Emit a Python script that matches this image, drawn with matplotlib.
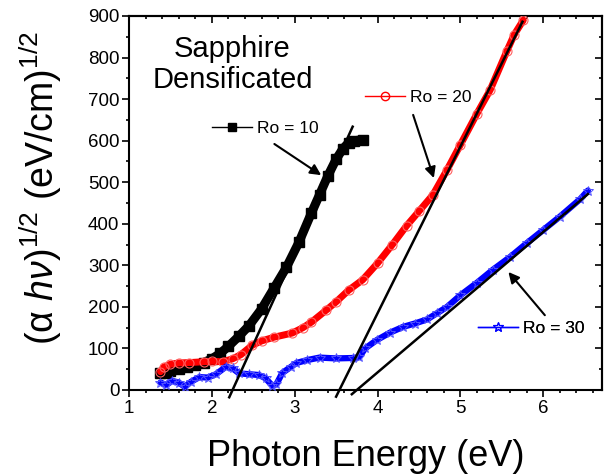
import matplotlib
matplotlib.use("Agg")
import matplotlib.pyplot as plt
from matplotlib.lines import Line2D
import numpy as np

plt.rcParams['font.family'] = ['Liberation Sans', 'DejaVu Sans']
plt.rcParams['mathtext.fontset'] = 'custom'
plt.rcParams['mathtext.rm'] = 'Liberation Sans'
plt.rcParams['mathtext.it'] = 'Liberation Sans:italic'

# Ro = 10 (black squares)
x10 = [1.38, 1.45, 1.5, 1.6, 1.7, 1.8, 1.9, 2.0, 2.1, 2.2, 2.33, 2.45, 2.6, 2.75,
       2.9, 3.05, 3.2, 3.3, 3.4, 3.5, 3.58, 3.65, 3.72, 3.82]
y10 = [40, 42, 45, 50, 55, 60, 66, 75, 88, 105, 130, 155, 195, 245,
       295, 355, 425, 470, 515, 555, 580, 595, 600, 602]

# Ro = 20 (red open circles)
x20 = [1.38, 1.42, 1.5, 1.6, 1.73, 1.9, 2.0, 2.13, 2.25, 2.35, 2.49, 2.6, 2.75, 2.97,
       3.1, 3.2, 3.38, 3.5, 3.65, 3.82, 4.0, 4.18, 4.35, 4.5, 4.67, 4.84, 5.0,
       5.2, 5.36, 5.56, 5.65, 5.76]
y20 = [44, 55, 62, 65, 66, 68, 69, 68, 75, 85, 108, 118, 127, 137,
       150, 163, 192, 212, 240, 265, 305, 350, 395, 430, 470, 530, 590,
       665, 722, 815, 855, 890]

# Ro = 30 (blue open stars)
x30 = [1.38, 1.45, 1.52, 1.6, 1.67, 1.75, 1.85, 1.95, 2.05, 2.17, 2.25, 2.33, 2.45,
       2.57, 2.65, 2.73, 2.78, 2.85, 2.95, 3.02, 3.15, 3.3, 3.5, 3.7, 3.78, 3.85,
       3.99, 4.15, 4.31, 4.45, 4.6, 4.72, 4.84, 5.0, 5.2, 5.39, 5.6, 5.8, 6.0,
       6.2, 6.45, 6.54]
y30 = [18, 12, 22, 18, 8, 20, 31, 30, 38, 56, 52, 40, 38,
       36, 28, 10, 14, 41, 55, 65, 72, 78, 76, 77, 79, 100,
       120, 138, 152, 160, 170, 185, 200, 228, 258, 289, 320, 353, 385,
       417, 460, 480]

# linear extrapolations: x-intercept (gap), slope, x-range
fit_gap = [2.25, 3.54, 3.75]
fit_slope = [437, 401, 169]
fit_xrange = [(2.21, 3.70), (3.50, 5.75), (3.69, 6.54)]

# arrows (tail -> head) and labels
arrow_tail = [(2.755, 592), (4.43, 662), (6.02, 180)]
arrow_head = [(3.32, 517), (4.68, 510), (5.58, 284)]
label_pos = [(2.0, 630), (3.85, 705), (5.21, 149)]
labels = ['Ro = 10', 'Ro = 20', 'Ro = 30']

fig = plt.figure(figsize=(6.1, 4.76), dpi=100)
ax = fig.add_axes([129 / 610, 86 / 476, 473 / 610, 374 / 476])

ax.plot(x10, y10, '-', color='black', lw=6.5, solid_capstyle='round', zorder=2)
ax.plot(x10, y10, 's', color='black', ms=7, zorder=2)
ax.plot(x20, y20, '-', color='red', lw=5, solid_capstyle='round', zorder=3)
ax.plot(x20, y20, 'o', mfc='none', mec='#ff6060', ms=6.5, mew=0.8, zorder=3)
ax.plot(x30, y30, '-', color='blue', lw=4.5, solid_capstyle='round', zorder=4)
ax.plot(x30, y30, '*', mfc='none', mec='#5050ff', ms=7.5, mew=0.7, zorder=4)

for g, s, (xa, xb) in zip(fit_gap, fit_slope, fit_xrange):
    xx = np.array([xa, xb])
    ax.plot(xx, s * (xx - g), color='black', lw=1.8, clip_on=False, zorder=5)

for t, h in zip(arrow_tail, arrow_head):
    ax.annotate('', xy=h, xytext=t,
                arrowprops=dict(arrowstyle='-|>', color='black', lw=1.5,
                                mutation_scale=16, shrinkA=0, shrinkB=0))

handles = [Line2D([], [], color='black', lw=1, marker='s', ms=6),
           Line2D([], [], color='red', lw=1, marker='o', mfc='none', ms=6),
           Line2D([], [], color='blue', lw=1, marker='*', mfc='none', ms=7, mew=0.8)]
for hd, lab, pos in zip(handles, labels, label_pos):
    leg = ax.legend([hd], [lab], loc='center left', bbox_to_anchor=pos,
                    bbox_transform=ax.transData, frameon=False, fontsize=12.5,
                    borderpad=0, borderaxespad=0, handlelength=2.3,
                    handletextpad=0.3, numpoints=1)
    ax.add_artist(leg)

ax.text(2.25, 784, 'Sapphire\nDensificated', ha='center', va='center',
        fontsize=21, linespacing=1.15)

ax.set_xlim(1, 6.71)
ax.set_ylim(0, 900)
ax.set_xticks([1, 2, 3, 4, 5, 6])
ax.set_yticks(range(0, 901, 100))
ax.set_xticks(np.arange(1, 6.71, 0.2), minor=True)
ax.set_yticks(range(0, 901, 50), minor=True)
ax.tick_params(which='both', direction='out', labelsize=13.5, width=1.2)
ax.tick_params(which='major', length=5, pad=2)
ax.tick_params(which='minor', length=2.5)
for sp in ax.spines.values():
    sp.set_linewidth(1.5)

top = ax.secondary_xaxis('top')
top.set_xticks([1, 2, 3, 4, 5, 6])
top.set_xticks(np.arange(1, 6.71, 0.2), minor=True)
top.tick_params(which='both', direction='in', labeltop=False, width=1.2)
top.tick_params(which='major', length=5)
top.tick_params(which='minor', length=2.5)
right = ax.secondary_yaxis('right')
right.set_yticks(range(0, 901, 100))
right.set_yticks(range(0, 901, 50), minor=True)
right.tick_params(which='both', direction='in', labelright=False, width=1.2)
right.tick_params(which='major', length=5)
right.tick_params(which='minor', length=2.5)
for sec in (top, right):
    for sp in sec.spines.values():
        sp.set_linewidth(1.5)

ax.set_xlabel('Photon Energy (eV)', fontsize=26, va='center')
ax.xaxis.set_label_coords(0.5, -67 / 374)
ax.set_ylabel(r'(α $h\nu$)$^{1/2}$ (eV/cm)$^{1/2}$', fontsize=27, va='center')
ax.yaxis.set_label_coords(-88 / 473, 0.54)

fig.savefig('out.png', dpi=100)
